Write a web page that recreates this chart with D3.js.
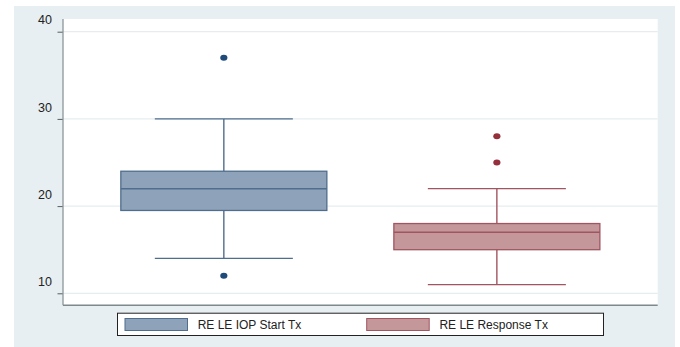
<!DOCTYPE html>
<html>
<head>
<meta charset="utf-8">
<script src="https://cdn.jsdelivr.net/npm/d3@7"></script>
<style>
  html, body { margin: 0; padding: 0; background: #ffffff; }
  svg { display: block; font-family: "Liberation Sans", Arial, sans-serif; }
</style>
</head>
<body>
<svg id="chart" width="680" height="347"></svg>
<script>
// Box-plot summaries for each series
const categories = ["RE LE IOP Start Tx", "RE LE Response Tx"];
const whiskerLow  = [14, 11];
const quartile1   = [19.5, 15];
const medians     = [22, 17];
const quartile3   = [24, 18];
const whiskerHigh = [30, 22];
const outliers    = [[37, 12], [28, 25]];
const yTicks      = [10, 20, 30, 40];

const fills   = ["#8ea3b9", "#c4979b"];
const strokes = ["#4f6d8c", "#a05560"];
const dots    = ["#1f4a7a", "#952f3c"];

const svg = d3.select("#chart");

// outer graph region and white plot region
const plot = { left: 63, right: 657.7, top: 19, bottom: 305.3 };
svg.append("rect").attr("x", 14).attr("y", 6).attr("width", 661).attr("height", 341)
  .attr("fill", "#e8eff2");
svg.append("rect").attr("x", plot.left).attr("y", plot.top)
  .attr("width", plot.right - plot.left).attr("height", plot.bottom - plot.top)
  .attr("fill", "#ffffff");

const y = d3.scaleLinear().domain([10, 40]).range([293.3, 31.7]);
const x = d3.scaleBand().domain(categories).range([plot.left, plot.right])
  .paddingInner(0.2454).paddingOuter(0.2118);

// horizontal grid lines
svg.append("g").selectAll("line").data(yTicks).join("line")
  .attr("x1", plot.left).attr("x2", plot.right)
  .attr("y1", d => y(d)).attr("y2", d => y(d))
  .attr("stroke", "#e6edef").attr("stroke-width", 1.2);

// y axis
const yAxis = svg.append("g").attr("transform", `translate(${plot.left},0)`)
  .call(d3.axisLeft(y).tickValues(yTicks).tickSize(5.5).tickSizeOuter(0));
yAxis.select(".domain").remove();
yAxis.selectAll(".tick line").attr("stroke", "#555f63").attr("stroke-width", 1);
yAxis.selectAll(".tick text")
  .attr("x", -11).attr("dy", "-0.62em")
  .attr("fill", "#222").style("font-size", "12.5px")
  .style("font-family", "'Liberation Sans', Arial, sans-serif");
svg.append("line").attr("x1", plot.left).attr("x2", plot.left)
  .attr("y1", plot.top).attr("y2", plot.bottom)
  .attr("stroke", "#8d979a").attr("stroke-width", 1.3);
svg.append("line").attr("x1", plot.left).attr("x2", plot.right)
  .attr("y1", plot.bottom).attr("y2", plot.bottom)
  .attr("stroke", "#7e898c").attr("stroke-width", 1.4);

// boxes
const capFrac = 0.67;
categories.forEach((c, i) => {
  const g = svg.append("g");
  const x0 = x(c), bw = x.bandwidth(), cx = x0 + bw / 2;
  const capW = bw * capFrac;
  // whisker stems
  g.append("line").attr("x1", cx).attr("x2", cx)
    .attr("y1", y(whiskerHigh[i])).attr("y2", y(quartile3[i]))
    .attr("stroke", strokes[i]).attr("stroke-width", 1.4);
  g.append("line").attr("x1", cx).attr("x2", cx)
    .attr("y1", y(quartile1[i])).attr("y2", y(whiskerLow[i]))
    .attr("stroke", strokes[i]).attr("stroke-width", 1.4);
  // caps
  [whiskerHigh[i], whiskerLow[i]].forEach(v => {
    g.append("line").attr("x1", cx - capW / 2).attr("x2", cx + capW / 2)
      .attr("y1", y(v)).attr("y2", y(v))
      .attr("stroke", strokes[i]).attr("stroke-width", 1.4);
  });
  // box
  g.append("rect").attr("x", x0).attr("width", bw)
    .attr("y", y(quartile3[i])).attr("height", y(quartile1[i]) - y(quartile3[i]))
    .attr("fill", fills[i]).attr("stroke", strokes[i]).attr("stroke-width", 1.3);
  // median
  g.append("line").attr("x1", x0).attr("x2", x0 + bw)
    .attr("y1", y(medians[i])).attr("y2", y(medians[i]))
    .attr("stroke", strokes[i]).attr("stroke-width", 1.5);
  // outliers
  g.selectAll("ellipse").data(outliers[i]).join("ellipse")
    .attr("cx", cx).attr("cy", d => y(d)).attr("rx", 3.6).attr("ry", 3)
    .attr("fill", dots[i]);
});

// legend
const leg = svg.append("g");
leg.append("rect").attr("x", 117.5).attr("y", 313.2).attr("width", 486).attr("height", 22.3)
  .attr("fill", "#ffffff").attr("stroke", "#222").attr("stroke-width", 1);
const legX = [125, 366.7];
categories.forEach((c, i) => {
  leg.append("rect").attr("x", legX[i]).attr("y", 318.5).attr("width", 62.5).attr("height", 12)
    .attr("fill", fills[i]).attr("stroke", strokes[i]).attr("stroke-width", 1);
  leg.append("text").attr("x", legX[i] + 72.7).attr("y", 329)
    .attr("fill", "#222").style("font-size", "12px").text(c);
});
</script>
</body>
</html>
